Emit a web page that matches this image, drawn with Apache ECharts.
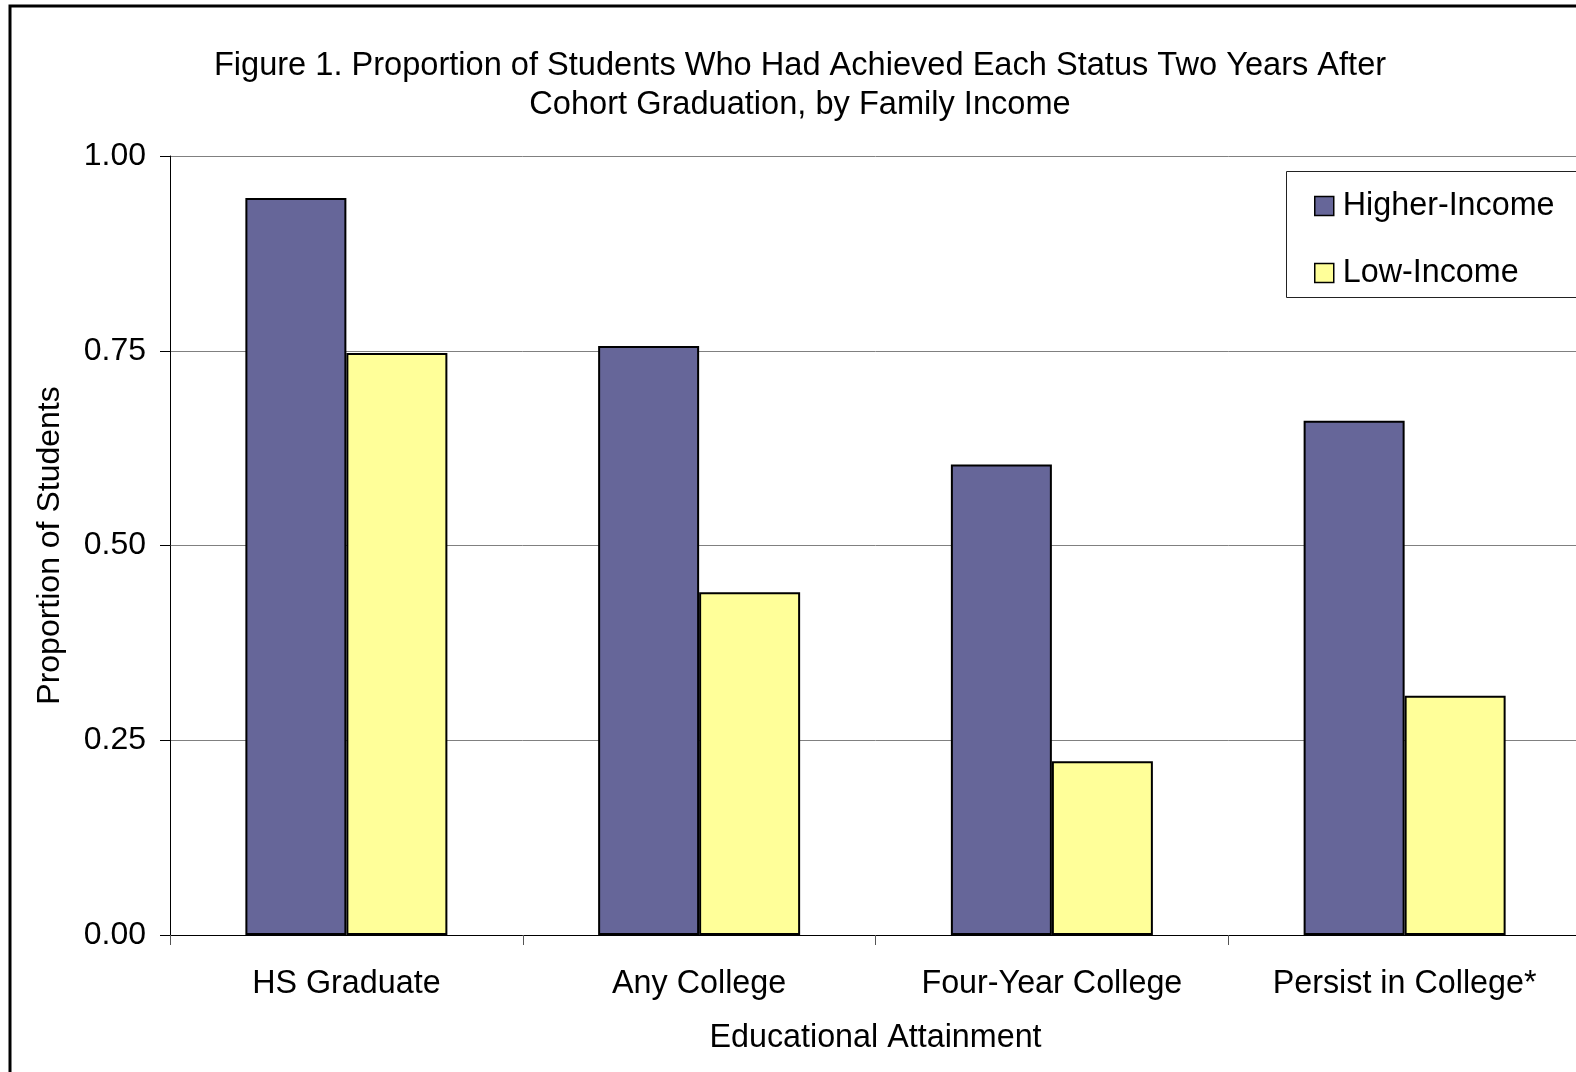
<!DOCTYPE html>
<html>
<head>
<meta charset="utf-8">
<title>Figure 1</title>
<script src="https://cdn.jsdelivr.net/npm/echarts@6/dist/echarts.min.js"></script>
<style>
  html, body { margin: 0; padding: 0; background: #fff; overflow: hidden; width: 1576px; height: 1072px; }
  /* the figure runs a little past the right edge of the page */
  #chart { width: 1620px; height: 1072px; }
</style>
</head>
<body>
<div id="chart"></div>
<script>
// Educational attainment categories and the share of each income group reaching them
const categories = ['HS Graduate', 'Any College', 'Four-Year College', 'Persist in College*'];
const higherIncome = [0.946, 0.756, 0.604, 0.660];
const lowIncome = [0.747, 0.440, 0.223, 0.307];
const seriesNames = ['Higher-Income', 'Low-Income'];
const yTicks = [0, 0.25, 0.5, 0.75, 1];

const FONT = '"Liberation Sans", Arial, sans-serif';
const chart = echarts.init(document.getElementById('chart'), null, { renderer: 'canvas' });

chart.setOption({
  backgroundColor: '#ffffff',
  animation: false,
  textStyle: { fontFamily: FONT, color: '#000' },
  title: {
    text: 'Figure 1. Proportion of Students Who Had Achieved Each Status Two Years After\nCohort Graduation, by Family Income',
    left: 800,
    top: 47,
    padding: 0,
    textAlign: 'center',
    textStyle: { fontFamily: FONT, fontSize: 32.6, fontWeight: 'normal', color: '#000', lineHeight: 39 }
  },
  legend: {
    data: seriesNames,
    orient: 'vertical',
    left: 1314,
    top: 190,
    padding: 0,
    itemGap: 35,
    itemWidth: 19,
    itemHeight: 19,
    icon: 'rect',
    itemStyle: { borderColor: '#000', borderWidth: 1.5 },
    textStyle: { fontFamily: FONT, fontSize: 32.3, color: '#000', lineHeight: 32, padding: [0, 0, 0, 4] }
  },
  grid: { left: 170, top: 156, width: 1411, bottom: 137, containLabel: false },
  xAxis: {
    type: 'category',
    data: categories,
    name: 'Educational Attainment',
    nameLocation: 'middle',
    nameGap: 87,
    nameTextStyle: { fontFamily: FONT, fontSize: 32.3, color: '#000' },
    axisLine: { show: true, lineStyle: { color: '#000', width: 1 } },
    axisTick: { show: true, length: 10, lineStyle: { color: '#555', width: 1 } },
    axisLabel: { fontFamily: FONT, fontSize: 32.3, color: '#000', margin: 33, interval: 0 },
    splitLine: { show: false }
  },
  yAxis: {
    type: 'value',
    min: 0,
    max: 1,
    interval: 0.25,
    name: 'Proportion of Students',
    nameLocation: 'middle',
    nameGap: 104,
    nameRotate: 90,
    nameTextStyle: { fontFamily: FONT, fontSize: 32, color: '#000' },
    axisLine: { show: true, lineStyle: { color: '#000', width: 1 } },
    axisTick: { show: true, length: 10, lineStyle: { color: '#000', width: 1 } },
    axisLabel: {
      fontFamily: FONT, fontSize: 32, color: '#000', margin: 24,
      formatter: v => yTicks.includes(v) ? v.toFixed(2) : ''
    },
    splitLine: { show: true, lineStyle: { color: '#808080', width: 1 } }
  },
  series: [
    {
      name: seriesNames[0],
      type: 'bar',
      data: higherIncome,
      barWidth: 101,
      barGap: '0%',
      itemStyle: { color: '#666699', borderColor: '#000', borderWidth: 2 }
    },
    {
      name: seriesNames[1],
      type: 'bar',
      data: lowIncome,
      barWidth: 101,
      barGap: '0%',
      itemStyle: { color: '#FFFF99', borderColor: '#000', borderWidth: 2 }
    }
  ],
  graphic: [
    // outer frame (open at the right and bottom, where the figure runs off)
    {
      type: 'rect',
      z: 100,
      shape: { x: 10, y: 6, width: 1700, height: 1200 },
      style: { fill: 'none', stroke: '#000', lineWidth: 3 }
    },
    // legend box
    {
      type: 'rect',
      z: 0,
      shape: { x: 1286.5, y: 171.5, width: 400, height: 126 },
      style: { fill: '#fff', stroke: '#222', lineWidth: 1 }
    }
  ]
});
</script>
</body>
</html>
